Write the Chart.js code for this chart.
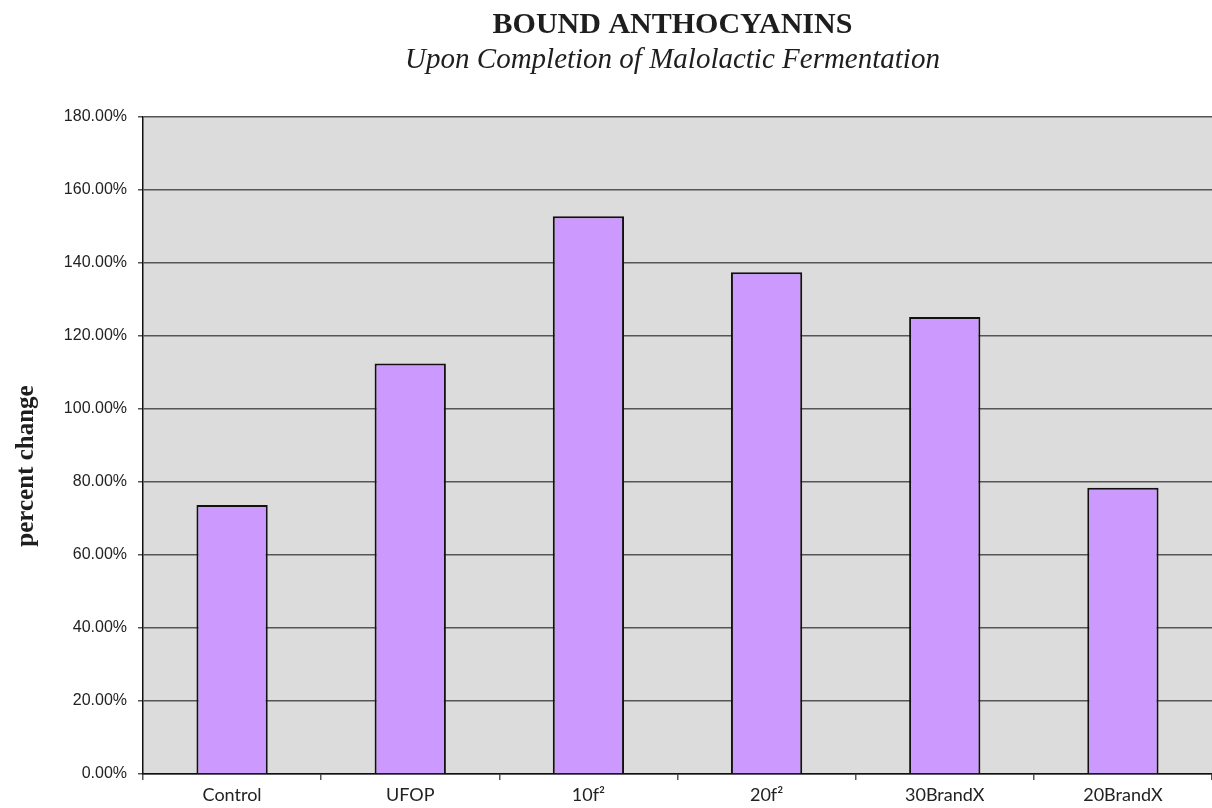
<!DOCTYPE html>
<html>
<head>
<meta charset="utf-8">
<title>Bound Anthocyanins</title>
<script src="https://cdn.jsdelivr.net/npm/chart.js@4.4.0/dist/chart.umd.min.js"></script>
<style>
    html, body { margin: 0; padding: 0; background: #ffffff; }
    #wrap { width: 1212px; height: 808px; position: relative; }
</style>
</head>
<body>
<div id="wrap"><canvas id="anthocyanin-chart"></canvas></div>
<script>
const categories = ['Control', 'UFOP', '10f²', '20f²', '30BrandX', '20BrandX'];
const percentChange = [73.7, 112.5, 152.8, 137.5, 125.2, 78.4];
const yTickValues = [0, 20, 40, 60, 80, 100, 120, 140, 160, 180];

const chartTitle = 'BOUND ANTHOCYANINS';
const chartSubtitle = 'Upon Completion of Malolactic Fermentation';
const yAxisTitle = 'percent change';

// grey plot background like the spreadsheet original
const plotBackground = {
    id: 'plotBackground',
    beforeDraw(chart) {
        const { ctx, chartArea } = chart;
        ctx.save();
        ctx.fillStyle = '#dcdcdc';
        ctx.fillRect(chartArea.left, chartArea.top, chartArea.right - chartArea.left, chartArea.bottom - chartArea.top);
        ctx.restore();
    }
};

// titles drawn by hand so they can sit where the original has them
const chartTexts = {
    id: 'chartTexts',
    afterDraw(chart) {
        const { ctx, chartArea } = chart;
        const centerX = (chartArea.left + chartArea.right) / 2 - 5;
        ctx.save();
        ctx.fillStyle = '#1e1e1e';
        ctx.textAlign = 'center';
        ctx.textBaseline = 'alphabetic';

        ctx.font = 'bold 30px "Liberation Serif"';
        ctx.fillText(chartTitle, centerX, 33);

        ctx.font = 'italic 29px "Liberation Serif"';
        ctx.fillText(chartSubtitle, centerX, 68);

        ctx.translate(33, 466);
        ctx.rotate(-Math.PI / 2);
        ctx.font = 'bold 25px "Liberation Serif"';
        ctx.fillText(yAxisTitle, 0, 0);
        ctx.restore();
    }
};

function createChart() {
    const ctx = document.getElementById('anthocyanin-chart').getContext('2d');

    new Chart(ctx, {
        type: 'bar',
        data: {
            labels: categories,
            datasets: [{
                label: 'percent change',
                data: percentChange,
                backgroundColor: '#cc99ff',
                borderColor: '#111111',
                borderWidth: 2,
                barPercentage: 0.4,
                categoryPercentage: 1.0
            }]
        },
        options: {
            responsive: true,
            maintainAspectRatio: false,
            animation: false,
            layout: { padding: { top: 117, right: 0, bottom: 0, left: 0 } },
            plugins: {
                legend: { display: false },
                tooltip: { enabled: false },
                title: { display: false }
            },
            scales: {
                x: {
                    afterFit(scale) { scale.height = 34; },
                    grid: {
                        drawOnChartArea: false,
                        drawTicks: true,
                        tickLength: 6,
                        color: '#555555',
                        lineWidth: 1.5
                    },
                    border: { color: '#111111', width: 1.5 },
                    ticks: {
                        color: '#222222',
                        padding: 4,
                        font: { family: 'Lato', size: 18 }
                    }
                },
                y: {
                    min: 0,
                    max: 180,
                    afterFit(scale) { scale.width = 143; },
                    afterBuildTicks(scale) {
                        scale.ticks = yTickValues.map(v => ({ value: v }));
                    },
                    grid: {
                        color: '#555555',
                        lineWidth: 1.5,
                        tickLength: 5
                    },
                    border: { color: '#111111', width: 1.5 },
                    ticks: {
                        color: '#222222',
                        padding: 11,
                        font: { family: 'Liberation Sans', size: 16 },
                        callback: value => value.toFixed(2) + '%'
                    }
                }
            }
        },
        plugins: [plotBackground, chartTexts]
    });
}

document.addEventListener('DOMContentLoaded', createChart);
</script>
</body>
</html>
